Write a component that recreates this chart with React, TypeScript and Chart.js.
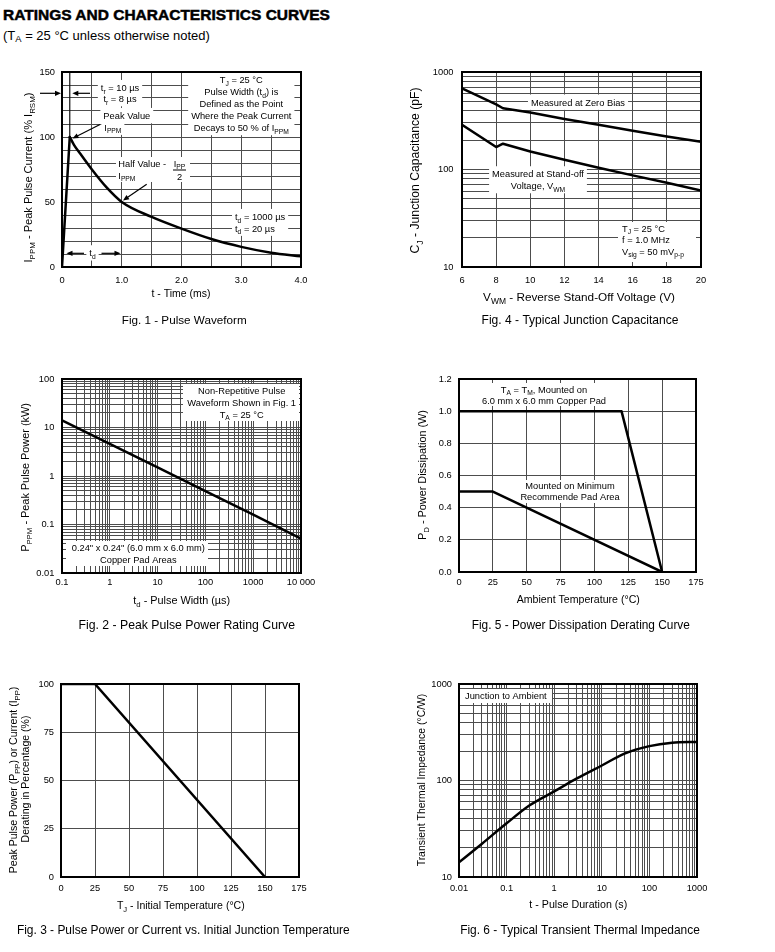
import React, { useEffect, useRef } from 'react';
import { Chart, registerables } from 'chart.js';

Chart.register(...registerables);

const FONT = '"Liberation Sans", Arial, Helvetica, sans-serif';
const GRID_COLOR = '#4d4d4d';
const TICK_SIZE = 9.3;
const NOTE_SIZE = 9.3;

// ---------------- DATA ----------------
// Fig. 1 - Pulse Waveform
const fig1Time = [0, 0.13, 0.2, 0.3, 0.5, 0.75, 1.0, 1.5, 2.0, 2.5, 3.0, 3.5, 4.0];
const fig1Current = [0, 100, 94, 87.5, 75, 61, 50, 38.5, 29.5, 21.5, 15.5, 11, 8.2];
const fig1XTickValues = [0, 1, 2, 3, 4];
const fig1XTickLabels = ['0', '1.0', '2.0', '3.0', '4.0'];
const fig1YTickValues = [0, 50, 100, 150];
const fig1YTickLabels = ['0', '50', '100', '150'];

// Fig. 4 - Typical Junction Capacitance
const fig4Voltage = [6, 8, 8.4, 10, 12, 14, 16, 18, 20];
const fig4ZeroBias = [680, 465, 425, 385, 330, 288, 250, 218, 192];
const fig4StandOff = [288, 170, 184, 153, 126, 104, 87, 73, 61];
const fig4XTickValues = [6, 8, 10, 12, 14, 16, 18, 20];
const fig4XTickLabels = ['6', '8', '10', '12', '14', '16', '18', '20'];
const fig4YTickValues = [10, 100, 1000];
const fig4YTickLabels = ['10', '100', '1000'];

// Fig. 2 - Peak Pulse Power Rating Curve
const fig2PulseWidth = [0.1, 1, 10, 100, 1000, 10000];
const fig2Power = [14, 4.6, 1.5, 0.49, 0.16, 0.051];
const fig2XTickValues = [0.1, 1, 10, 100, 1000, 10000];
const fig2XTickLabels = ['0.1', '1', '10', '100', '1000', '10 000'];
const fig2YTickValues = [0.01, 0.1, 1, 10, 100];
const fig2YTickLabels = ['0.01', '0.1', '1', '10', '100'];

// Fig. 5 - Power Dissipation Derating Curve
const fig5TempCopperPad = [0, 120, 150];
const fig5PowerCopperPad = [1.0, 1.0, 0.0];
const fig5TempMinPad = [0, 25, 150];
const fig5PowerMinPad = [0.5, 0.5, 0.0];
const fig5XTickValues = [0, 25, 50, 75, 100, 125, 150, 175];
const fig5XTickLabels = ['0', '25', '50', '75', '100', '125', '150', '175'];
const fig5YTickValues = [0, 0.2, 0.4, 0.6, 0.8, 1.0, 1.2];
const fig5YTickLabels = ['0.0', '0.2', '0.4', '0.6', '0.8', '1.0', '1.2'];

// Fig. 3 - Pulse Power or Current vs. Initial Junction Temperature
const fig3Temp = [0, 25, 150];
const fig3Derating = [100, 100, 0];
const fig3XTickValues = [0, 25, 50, 75, 100, 125, 150, 175];
const fig3XTickLabels = ['0', '25', '50', '75', '100', '125', '150', '175'];
const fig3YTickValues = [0, 25, 50, 75, 100];
const fig3YTickLabels = ['0', '25', '50', '75', '100'];

// Fig. 6 - Typical Transient Thermal Impedance
const fig6Duration = [0.01, 0.03, 0.1, 0.3, 1, 3, 10, 30, 100, 300, 1000];
const fig6Impedance = [14.2, 22, 36, 55, 77, 105, 143, 190, 227, 246, 251];
const fig6XTickValues = [0.01, 0.1, 1, 10, 100, 1000];
const fig6XTickLabels = ['0.01', '0.1', '1', '10', '100', '1000'];
const fig6YTickValues = [10, 100, 1000];
const fig6YTickLabels = ['10', '100', '1000'];

// ---------------- helpers ----------------
type Pt = { x: number; y: number };
const pts = (xs: number[], ys: number[]): Pt[] => xs.map((x, i) => ({ x, y: ys[i] }));

function linGrid(min: number, max: number, step: number): number[] {
  const out: number[] = [];
  const n = Math.round((max - min) / step);
  for (let i = 0; i <= n; i++) out.push(Number((min + i * step).toFixed(6)));
  return out;
}
function logGrid(minExp: number, maxExp: number): number[] {
  const out: number[] = [];
  for (let e = minExp; e < maxExp; e++) {
    for (let m = 1; m <= 9; m++) out.push(Number((m * Math.pow(10, e)).toPrecision(6)));
  }
  out.push(Number(Math.pow(10, maxExp).toPrecision(6)));
  return out;
}
function labelFor(v: number, vals: number[], labels: string[]): string {
  const i = vals.findIndex((l) => Math.abs(l - v) <= 1e-6 * Math.max(1e-3, Math.abs(l)));
  return i >= 0 ? labels[i] : '';
}

type Seg = { t: string; sub: boolean };
function parseRich(s: string): Seg[] {
  const segs: Seg[] = [];
  let buf = '';
  let i = 0;
  while (i < s.length) {
    if (s[i] === '_' && s[i + 1] === '{') {
      if (buf) segs.push({ t: buf, sub: false });
      buf = '';
      const j = s.indexOf('}', i);
      segs.push({ t: s.slice(i + 2, j), sub: true });
      i = j + 1;
    } else {
      buf += s[i];
      i++;
    }
  }
  if (buf) segs.push({ t: buf, sub: false });
  return segs;
}
function setFont(ctx: CanvasRenderingContext2D, size: number) {
  ctx.font = `${size}px ${FONT}`;
}
function richWidth(ctx: CanvasRenderingContext2D, s: string, size: number): number {
  let w = 0;
  for (const seg of parseRich(s)) {
    setFont(ctx, seg.sub ? size * 0.72 : size);
    w += ctx.measureText(seg.t).width;
  }
  return w;
}
type Align = 'left' | 'center' | 'right';
function drawRich(ctx: CanvasRenderingContext2D, s: string, x: number, cy: number, size: number, align: Align = 'center') {
  const w = richWidth(ctx, s, size);
  let cx = align === 'left' ? x : align === 'center' ? x - w / 2 : x - w;
  const base = cy + size * 0.36;
  ctx.textAlign = 'left';
  ctx.textBaseline = 'alphabetic';
  ctx.fillStyle = '#000';
  for (const seg of parseRich(s)) {
    const sz = seg.sub ? size * 0.72 : size;
    setFont(ctx, sz);
    ctx.fillText(seg.t, cx, seg.sub ? base + size * 0.28 : base);
    cx += ctx.measureText(seg.t).width;
  }
}
function drawFit(ctx: CanvasRenderingContext2D, s: string, cx: number, cy: number, target: number, rotate = false) {
  const size = (10 * target) / richWidth(ctx, s, 10);
  if (rotate) {
    ctx.save();
    ctx.translate(cx, cy);
    ctx.rotate(-Math.PI / 2);
    drawRich(ctx, s, 0, 0, size, 'center');
    ctx.restore();
  } else {
    drawRich(ctx, s, cx, cy, size, 'center');
  }
}
function noteBlock(
  ctx: CanvasRenderingContext2D,
  lines: string[],
  x: number,
  ys: number[],
  align: Align = 'center',
  rect?: [number, number, number, number]
) {
  const size = NOTE_SIZE;
  const widths = lines.map((l) => richWidth(ctx, l, size));
  const maxW = Math.max(...widths);
  const left = align === 'left' ? x : align === 'center' ? x - maxW / 2 : x - maxW;
  ctx.fillStyle = '#fff';
  if (rect) ctx.fillRect(rect[0], rect[1], rect[2] - rect[0], rect[3] - rect[1]);
  else ctx.fillRect(left - 3, ys[0] - size * 0.62 - 2, maxW + 6, ys[ys.length - 1] - ys[0] + size * 1.22 + 4);
  lines.forEach((l, i) => drawRich(ctx, l, x, ys[i], size, align));
}
function arrow(ctx: CanvasRenderingContext2D, x1: number, y1: number, x2: number, y2: number) {
  const head = 6;
  const half = 2.6;
  const a = Math.atan2(y2 - y1, x2 - x1);
  const c = Math.cos(a);
  const s = Math.sin(a);
  ctx.strokeStyle = '#000';
  ctx.lineWidth = 1.2;
  ctx.beginPath();
  ctx.moveTo(x1, y1);
  ctx.lineTo(x2 - head * c * 0.8, y2 - head * s * 0.8);
  ctx.stroke();
  ctx.fillStyle = '#000';
  ctx.beginPath();
  ctx.moveTo(x2, y2);
  ctx.lineTo(x2 - head * c + half * s, y2 - head * s - half * c);
  ctx.lineTo(x2 - head * c - half * s, y2 - head * s + half * c);
  ctx.closePath();
  ctx.fill();
}

// ---------------- figure specs ----------------
type AxisSpec = {
  type: 'linear' | 'logarithmic';
  min: number;
  max: number;
  grid: number[];
  tickValues: number[];
  tickLabels: string[];
  pad: number;
};
type Proj = { x: (v: number) => number; y: (v: number) => number };
type TextSpec = { text: string; cx: number; cy: number; w: number };
type FigSpec = {
  key: string;
  ox: number;
  oy: number;
  w: number;
  h: number;
  area: { L: number; T: number; R: number; B: number };
  xAxis: AxisSpec;
  yAxis: AxisSpec;
  datasets: { data: Pt[]; smooth?: boolean }[];
  under?: (ctx: CanvasRenderingContext2D, P: Proj) => void;
  over?: (ctx: CanvasRenderingContext2D, P: Proj) => void;
  xTitle: TextSpec;
  yTitles: TextSpec[];
  caption: TextSpec;
};

const FIG1: FigSpec = {
  key: 'fig1',
  ox: 0, oy: 50, w: 388, h: 290,
  area: { L: 62, T: 72, R: 301, B: 267 },
  xAxis: { type: 'linear', min: 0, max: 4, grid: linGrid(0, 4, 0.5), tickValues: fig1XTickValues, tickLabels: fig1XTickLabels, pad: 7.4 },
  yAxis: { type: 'linear', min: 0, max: 150, grid: linGrid(0, 150, 10), tickValues: fig1YTickValues, tickLabels: fig1YTickLabels, pad: 7 },
  datasets: [
    { data: pts(fig1Time.slice(0, 2), fig1Current.slice(0, 2)) },
    { data: pts(fig1Time.slice(1), fig1Current.slice(1)), smooth: true },
  ],
  under: (ctx, P) => {
    const px = P.x(fig1Time[1]);
    ctx.strokeStyle = '#111';
    ctx.lineWidth = 1.2;
    ctx.beginPath();
    ctx.moveTo(px, 72);
    ctx.lineTo(px, P.y(fig1Current[1]));
    ctx.stroke();
    noteBlock(ctx, ['t_{r} = 10 µs', 't_{r} = 8 µs'], 120, [87.7, 98.7]);
    noteBlock(ctx, ['Peak Value'], 126.8, [115.7]);
    noteBlock(ctx, ['I_{PPM}'], 104.3, [127.3], 'left');
    noteBlock(
      ctx,
      ['T_{J} = 25 °C', 'Pulse Width (t_{d}) is', 'Defined as the Point', 'Where the Peak Current', 'Decays to 50 % of I_{PPM}'],
      241.3,
      [80, 91.8, 103.8, 115.7, 127.6]
    );
    ctx.fillStyle = '#fff';
    ctx.fillRect(116, 157, 74, 25);
    drawRich(ctx, 'Half Value - ', 118.3, 164, NOTE_SIZE, 'left');
    drawRich(ctx, 'I_{PPM}', 118.3, 175.5, NOTE_SIZE, 'left');
    drawRich(ctx, 'I_{PP}', 179.5, 163.5, NOTE_SIZE, 'center');
    ctx.strokeStyle = '#000';
    ctx.lineWidth = 1;
    ctx.beginPath();
    ctx.moveTo(173, 170);
    ctx.lineTo(186, 170);
    ctx.stroke();
    drawRich(ctx, '2', 179.5, 176.5, NOTE_SIZE, 'center');
    noteBlock(ctx, ['t_{d} = 1000 µs', 't_{d} = 20 µs'], 235, [216.7, 228.3], 'left');
    noteBlock(ctx, ['t_{d}'], 92.5, [253]);
  },
  over: (ctx) => {
    arrow(ctx, 40, 93.3, 61, 93.3);
    arrow(ctx, 90, 93.3, 72.3, 93.3);
    arrow(ctx, 100, 124.5, 72.5, 138.5);
    arrow(ctx, 146.7, 184.3, 123, 200.5);
    arrow(ctx, 84, 253.3, 66.5, 253.3);
    arrow(ctx, 101.5, 253.3, 120.5, 253.3);
  },
  xTitle: { text: 't - Time (ms)', cx: 181, cy: 293.3, w: 59 },
  yTitles: [{ text: 'I_{PPM} - Peak Pulse Current (% I_{RSM})', cx: 28.3, cy: 177.5, w: 170 }],
  caption: { text: 'Fig. 1 - Pulse Waveform', cx: 184.2, cy: 320, w: 125 },
};

const FIG4: FigSpec = {
  key: 'fig4',
  ox: 388, oy: 50, w: 387, h: 290,
  area: { L: 462, T: 72, R: 701, B: 267 },
  xAxis: { type: 'linear', min: 6, max: 20, grid: linGrid(6, 20, 2), tickValues: fig4XTickValues, tickLabels: fig4XTickLabels, pad: 7.4 },
  yAxis: { type: 'logarithmic', min: 10, max: 1000, grid: logGrid(1, 3), tickValues: fig4YTickValues, tickLabels: fig4YTickLabels, pad: 8.5 },
  datasets: [{ data: pts(fig4Voltage, fig4ZeroBias) }, { data: pts(fig4Voltage, fig4StandOff) }],
  under: (ctx) => {
    noteBlock(ctx, ['Measured at Zero Bias'], 578, [102.3]);
    noteBlock(ctx, ['Measured at Stand-off', 'Voltage, V_{WM}'], 538, [174, 185.7]);
    noteBlock(ctx, ['T_{J} = 25 °C', 'f = 1.0 MHz', 'V_{sig} = 50 mV_{p-p}'], 622, [228.3, 239.7, 251.2], 'left', [618, 222, 696, 262]);
  },
  xTitle: { text: 'V_{WM} - Reverse Stand-Off Voltage (V)', cx: 579, cy: 296.7, w: 192 },
  yTitles: [{ text: 'C_{J} - Junction Capacitance (pF)', cx: 415, cy: 170.5, w: 166 }],
  caption: { text: 'Fig. 4 - Typical Junction Capacitance', cx: 580, cy: 320, w: 197 },
};

const FIG2: FigSpec = {
  key: 'fig2',
  ox: 0, oy: 340, w: 388, h: 305,
  area: { L: 62, T: 379, R: 301, B: 573 },
  xAxis: { type: 'logarithmic', min: 0.1, max: 10000, grid: logGrid(-1, 4), tickValues: fig2XTickValues, tickLabels: fig2XTickLabels, pad: 4.1 },
  yAxis: { type: 'logarithmic', min: 0.01, max: 100, grid: logGrid(-2, 2), tickValues: fig2YTickValues, tickLabels: fig2YTickLabels, pad: 7.7 },
  datasets: [{ data: pts(fig2PulseWidth, fig2Power) }],
  under: (ctx) => {
    noteBlock(ctx, ['Non-Repetitive Pulse', 'Waveform Shown in Fig. 1', 'T_{A} = 25 °C'], 241.7, [390.3, 402.7, 414.3], 'center', [183, 384, 299, 421]);
    noteBlock(ctx, ['0.24" x 0.24" (6.0 mm x 6.0 mm)', 'Copper Pad Areas'], 138.3, [547.7, 559.3], 'center', [66, 541, 208, 566]);
  },
  xTitle: { text: 't_{d} - Pulse Width (µs)', cx: 181.7, cy: 600, w: 97 },
  yTitles: [{ text: 'P_{PPM} - Peak Pulse Power (kW)', cx: 25, cy: 477.5, w: 149 }],
  caption: { text: 'Fig. 2 - Peak Pulse Power Rating Curve', cx: 186.7, cy: 625, w: 216.7 },
};

const FIG5: FigSpec = {
  key: 'fig5',
  ox: 388, oy: 340, w: 387, h: 305,
  area: { L: 459, T: 379, R: 696, B: 572 },
  xAxis: { type: 'linear', min: 0, max: 175, grid: linGrid(0, 175, 25), tickValues: fig5XTickValues, tickLabels: fig5XTickLabels, pad: 5 },
  yAxis: { type: 'linear', min: 0, max: 1.2, grid: linGrid(0, 1.2, 0.2), tickValues: fig5YTickValues, tickLabels: fig5YTickLabels, pad: 7.3 },
  datasets: [{ data: pts(fig5TempCopperPad, fig5PowerCopperPad) }, { data: pts(fig5TempMinPad, fig5PowerMinPad) }],
  under: (ctx) => {
    noteBlock(ctx, ['T_{A} = T_{M}, Mounted on', '6.0 mm x 6.0 mm Copper Pad'], 544, [389.3, 400.7], 'center', [478, 383, 611, 406]);
    noteBlock(ctx, ['Mounted on Minimum', 'Recommende Pad Area'], 570, [486, 496.8], 'center', [518, 480, 623, 503]);
  },
  xTitle: { text: 'Ambient Temperature (°C)', cx: 578.3, cy: 599.3, w: 123.3 },
  yTitles: [{ text: 'P_{D} - Power Dissipation (W)', cx: 421.7, cy: 475, w: 130 }],
  caption: { text: 'Fig. 5 - Power Dissipation Derating Curve', cx: 580.8, cy: 625, w: 218.3 },
};

const FIG3: FigSpec = {
  key: 'fig3',
  ox: 0, oy: 645, w: 388, h: 307,
  area: { L: 61, T: 684, R: 299, B: 877 },
  xAxis: { type: 'linear', min: 0, max: 175, grid: linGrid(0, 175, 25), tickValues: fig3XTickValues, tickLabels: fig3XTickLabels, pad: 5.7 },
  yAxis: { type: 'linear', min: 0, max: 100, grid: linGrid(0, 100, 25), tickValues: fig3YTickValues, tickLabels: fig3YTickLabels, pad: 7 },
  datasets: [{ data: pts(fig3Temp, fig3Derating) }],
  xTitle: { text: 'T_{J} - Initial Temperature (°C)', cx: 180.8, cy: 905, w: 128 },
  yTitles: [
    { text: 'Peak Pulse Power (P_{PP}) or Current (I_{PP})', cx: 13.3, cy: 780, w: 186.7 },
    { text: 'Derating in Percentage (%)', cx: 25.5, cy: 779, w: 127 },
  ],
  caption: { text: 'Fig. 3 - Pulse Power or Current vs. Initial Junction Temperature', cx: 183.3, cy: 930, w: 333.3 },
};

const FIG6: FigSpec = {
  key: 'fig6',
  ox: 388, oy: 645, w: 387, h: 307,
  area: { L: 459, T: 684, R: 697, B: 877 },
  xAxis: { type: 'logarithmic', min: 0.01, max: 1000, grid: logGrid(-2, 3), tickValues: fig6XTickValues, tickLabels: fig6XTickLabels, pad: 5.7 },
  yAxis: { type: 'logarithmic', min: 10, max: 1000, grid: logGrid(1, 3), tickValues: fig6YTickValues, tickLabels: fig6YTickLabels, pad: 7 },
  datasets: [{ data: pts(fig6Duration, fig6Impedance), smooth: true }],
  under: (ctx) => {
    noteBlock(ctx, ['Junction to Ambient'], 465, [696], 'left', [460, 689, 552, 703]);
  },
  xTitle: { text: 't - Pulse Duration (s)', cx: 578.3, cy: 904.5, w: 98 },
  yTitles: [{ text: 'Transient Thermal Impedance (°C/W)', cx: 421.7, cy: 780, w: 173 }],
  caption: { text: 'Fig. 6 - Typical Transient Thermal Impedance', cx: 580, cy: 930, w: 240 },
};

const SPECS: FigSpec[] = [FIG1, FIG4, FIG2, FIG5, FIG3, FIG6];

// ---------------- chart config ----------------
const X_AXIS_H = 45;

function axisConfig(a: AxisSpec, isY: boolean, fit: number) {
  return {
    type: a.type,
    min: a.min,
    max: a.max,
    position: isY ? 'left' : 'bottom',
    afterBuildTicks: (scale: any) => {
      scale.ticks = a.grid.map((v) => ({ value: v }));
    },
    afterFit: (scale: any) => {
      if (isY) scale.width = fit;
      else scale.height = fit;
    },
    grid: { color: GRID_COLOR, lineWidth: 1, drawTicks: false },
    border: { display: false },
    title: { display: false },
    ticks: {
      autoSkip: false,
      maxRotation: 0,
      minRotation: 0,
      padding: a.pad,
      color: '#000',
      font: { family: FONT, size: TICK_SIZE },
      callback: (v: any) => labelFor(Number(v), a.tickValues, a.tickLabels),
    },
  };
}

function makeConfig(spec: FigSpec) {
  const { ox, oy, w, h, area } = spec;
  const proj = (chart: any): Proj => ({
    x: (v: number) => chart.scales.x.getPixelForValue(v) + ox,
    y: (v: number) => chart.scales.y.getPixelForValue(v) + oy,
  });
  const plugin = {
    id: 'notes_' + spec.key,
    beforeDatasetsDraw(chart: any) {
      if (!spec.under) return;
      const ctx = chart.ctx as CanvasRenderingContext2D;
      ctx.save();
      ctx.translate(-ox, -oy);
      spec.under(ctx, proj(chart));
      ctx.restore();
    },
    afterDatasetsDraw(chart: any) {
      const ctx = chart.ctx as CanvasRenderingContext2D;
      const ca = chart.chartArea;
      ctx.save();
      ctx.strokeStyle = '#000';
      ctx.lineWidth = 2;
      ctx.strokeRect(ca.left, ca.top, ca.right - ca.left, ca.bottom - ca.top);
      ctx.restore();
      if (spec.over) {
        ctx.save();
        ctx.translate(-ox, -oy);
        spec.over(ctx, proj(chart));
        ctx.restore();
      }
    },
    afterDraw(chart: any) {
      const ctx = chart.ctx as CanvasRenderingContext2D;
      ctx.save();
      ctx.translate(-ox, -oy);
      drawFit(ctx, spec.xTitle.text, spec.xTitle.cx, spec.xTitle.cy, spec.xTitle.w);
      spec.yTitles.forEach((t) => drawFit(ctx, t.text, t.cx, t.cy, t.w, true));
      drawFit(ctx, spec.caption.text, spec.caption.cx, spec.caption.cy, spec.caption.w);
      ctx.restore();
    },
  };
  return {
    type: 'scatter',
    data: {
      datasets: spec.datasets.map((d) => ({
        data: d.data,
        showLine: true,
        borderColor: '#000',
        backgroundColor: '#000',
        borderWidth: 2.5,
        pointRadius: 0,
        pointHoverRadius: 0,
        fill: false,
        tension: 0,
        cubicInterpolationMode: d.smooth ? 'monotone' : 'default',
        borderJoinStyle: 'round',
        borderCapStyle: 'round',
      })),
    },
    options: {
      responsive: false,
      maintainAspectRatio: false,
      animation: false,
      devicePixelRatio: 1,
      events: [],
      layout: {
        padding: {
          left: 0,
          top: area.T - oy,
          right: ox + w - area.R,
          bottom: oy + h - area.B - X_AXIS_H,
        },
      },
      scales: {
        x: axisConfig(spec.xAxis, false, X_AXIS_H),
        y: axisConfig(spec.yAxis, true, area.L - ox),
      },
      plugins: { legend: { display: false }, tooltip: { enabled: false } },
    },
    plugins: [plugin],
  };
}

function Figure({ spec }: { spec: FigSpec }) {
  const ref = useRef<HTMLCanvasElement>(null);
  useEffect(() => {
    const chart = new Chart(ref.current as HTMLCanvasElement, makeConfig(spec) as any);
    return () => chart.destroy();
  }, [spec]);
  return (
    <canvas
      ref={ref}
      width={spec.w}
      height={spec.h}
      style={{ position: 'absolute', left: spec.ox, top: spec.oy, width: spec.w, height: spec.h }}
    />
  );
}

export default function App() {
  return (
    <div
      style={{
        position: 'absolute',
        left: 0,
        top: 0,
        width: 775,
        height: 952,
        background: '#fff',
        overflow: 'hidden',
        fontFamily: FONT,
        color: '#000',
      }}
    >
      <div
        style={{
          position: 'absolute',
          left: 3,
          top: 7,
          fontSize: 15.5,
          fontWeight: 'bold',
          lineHeight: 1,
          whiteSpace: 'nowrap',
          WebkitTextStroke: '0.5px #000',
        }}
      >
        RATINGS AND CHARACTERISTICS CURVES
      </div>
      <div style={{ position: 'absolute', left: 3, top: 28.5, fontSize: 13, lineHeight: 1, whiteSpace: 'nowrap' }}>
        (T<span style={{ fontSize: '0.72em', position: 'relative', top: '0.3em' }}>A</span> = 25 °C unless otherwise noted)
      </div>
      {SPECS.map((s) => (
        <Figure key={s.key} spec={s} />
      ))}
    </div>
  );
}
